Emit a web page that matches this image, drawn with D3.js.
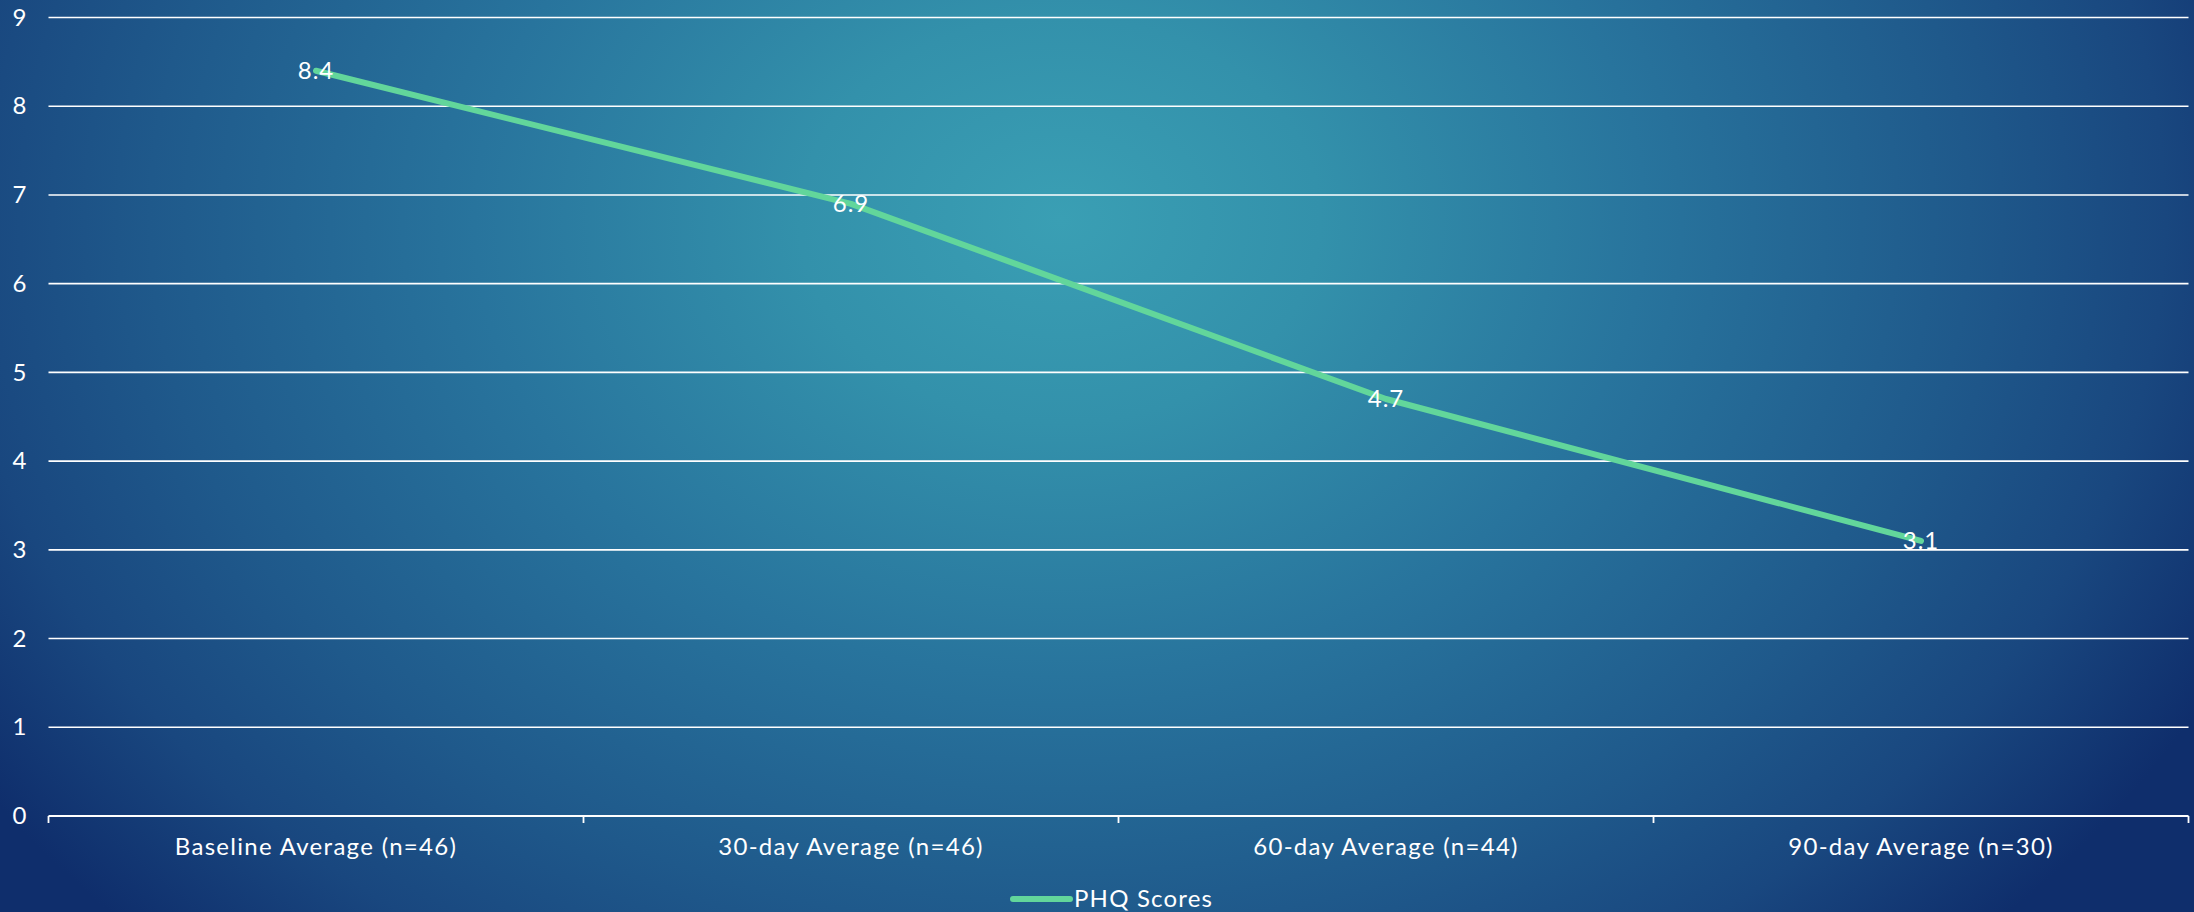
<!DOCTYPE html>
<html>
<head>
<meta charset="utf-8">
<script src="https://cdn.jsdelivr.net/npm/d3@7"></script>
<style>
  html, body { margin: 0; padding: 0; background: #1b4f86; }
  svg { display: block; }
  text { font-family: "Century Gothic", "URW Gothic", Lato, "Open Sans", sans-serif; fill: #ffffff; }
</style>
</head>
<body>
<svg id="chart" width="2194" height="912"></svg>
<script>
// PHQ score averages over the follow-up period
const categories = ["Baseline Average (n=46)", "30-day Average (n=46)", "60-day Average (n=44)", "90-day Average (n=30)"];
const phqScores = [8.4, 6.9, 4.7, 3.1];
const yTicks = [0, 1, 2, 3, 4, 5, 6, 7, 8, 9];
const seriesName = "PHQ Scores";

const W = 2194, H = 912;
const margin = { left: 48.5, right: 5.5, top: 17.5, bottom: 96 };
const svg = d3.select("#chart");
const FONT = "\"Century Gothic\", \"URW Gothic\", Lato, \"Open Sans\", sans-serif";

// Background glow
const defs = svg.append("defs");
const grad = defs.append("radialGradient")
  .attr("id", "bg")
  .attr("gradientUnits", "userSpaceOnUse")
  .attr("cx", 1060).attr("cy", 220).attr("r", 1300)
  .attr("gradientTransform", "translate(1060,220) scale(1,0.78) translate(-1060,-220)");
[[0, "#3a9fb4"], [0.2, "#3391ab"], [0.45, "#28749d"], [0.7, "#1f598b"], [0.85, "#19477f"], [1, "#0f2e6c"]]
  .forEach(([o, c]) => grad.append("stop").attr("offset", o).attr("stop-color", c));
svg.append("rect").attr("width", W).attr("height", H).attr("fill", "url(#bg)");

const x = d3.scaleBand().domain(categories).range([margin.left, W - margin.right]);
const y = d3.scaleLinear().domain([0, 9]).range([H - margin.bottom, margin.top]);

// Horizontal gridlines
svg.append("g")
  .selectAll("line")
  .data(yTicks.filter(d => d > 0))
  .join("line")
  .attr("x1", margin.left).attr("x2", W - margin.right)
  .attr("y1", d => y(d)).attr("y2", d => y(d))
  .attr("stroke", "#ffffff").attr("stroke-width", 1.6);

// Y axis labels
const yAxis = svg.append("g")
  .attr("transform", `translate(${margin.left},0)`)
  .call(d3.axisLeft(y).tickValues(yTicks).tickSize(0).tickPadding(22).tickFormat(d3.format("d")));
yAxis.select(".domain").remove();
yAxis.selectAll("text").attr("font-size", 24).attr("fill", "#eef2f6")
  .style("font-family", FONT);

// Category axis with boundary ticks
const xAxisG = svg.append("g").attr("transform", `translate(0,${y(0)})`);
xAxisG.append("line")
  .attr("x1", margin.left).attr("x2", W - margin.right)
  .attr("stroke", "#ffffff").attr("stroke-width", 1.8);
const bounds = categories.map(c => x(c)).concat([x(categories[categories.length - 1]) + x.bandwidth()]);
xAxisG.selectAll("line.tick")
  .data(bounds)
  .join("line")
  .attr("class", "tick")
  .attr("x1", d => d).attr("x2", d => d)
  .attr("y1", 0).attr("y2", 7)
  .attr("stroke", "#ffffff").attr("stroke-width", 1.8);
xAxisG.selectAll("text")
  .data(categories)
  .join("text")
  .attr("x", d => x(d) + x.bandwidth() / 2)
  .attr("y", 39)
  .attr("text-anchor", "middle")
  .attr("font-size", 24)
  .attr("letter-spacing", 1.3)
  .attr("fill", "#eef2f6")
  .text(d => d);

// Series line
const line = d3.line()
  .x((d, i) => x(categories[i]) + x.bandwidth() / 2)
  .y(d => y(d));
svg.append("path")
  .datum(phqScores)
  .attr("d", line)
  .attr("fill", "none")
  .attr("stroke", "#62d69b")
  .attr("stroke-width", 6)
  .attr("stroke-linecap", "round")
  .attr("stroke-linejoin", "round");

// Value labels
svg.append("g")
  .selectAll("text")
  .data(phqScores)
  .join("text")
  .attr("x", (d, i) => x(categories[i]) + x.bandwidth() / 2)
  .attr("y", d => y(d))
  .attr("dy", "0.35em")
  .attr("text-anchor", "middle")
  .attr("font-size", 24)
  .attr("letter-spacing", 1)
  .attr("fill", "#f2f4f7")
  .text(d => d.toFixed(1));

// Legend
const legend = svg.append("g").attr("transform", "translate(1013,899)");
legend.append("line")
  .attr("x1", 0).attr("x2", 57)
  .attr("stroke", "#62d69b").attr("stroke-width", 6).attr("stroke-linecap", "round");
legend.append("text")
  .attr("x", 61).attr("dy", "0.35em")
  .attr("font-size", 24)
  .attr("letter-spacing", 1.2)
  .attr("fill", "#eef2f6")
  .text(seriesName);
</script>
</body>
</html>
